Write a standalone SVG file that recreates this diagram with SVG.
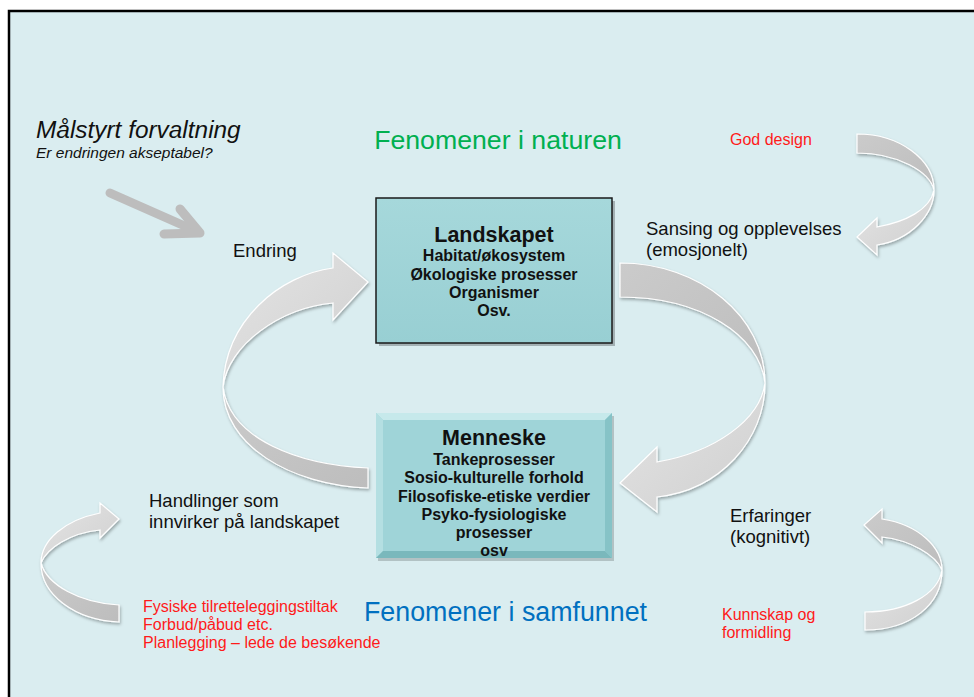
<svg xmlns="http://www.w3.org/2000/svg" width="974" height="697" viewBox="0 0 974 697">
<defs>
<style>
text{font-family:"Liberation Sans",Arial,sans-serif;fill:#111}
.lbl{font-size:18.5px}
.red{font-size:16px;fill:#ff1a1a}
.b1{font-size:21.5px;font-weight:bold;text-anchor:middle}
.b2{font-size:16px;font-weight:bold;text-anchor:middle}
.dark{fill:url(#gDark);stroke:#fff;stroke-width:1.2}
.light{fill:url(#gLight);stroke:#fff;stroke-width:1.2}
</style>
<linearGradient id="gDark" x1="0" y1="0" x2="1" y2="1"><stop offset="0" stop-color="#cbcbcb"/><stop offset="1" stop-color="#bdbdbd"/></linearGradient>
<linearGradient id="gLight" x1="0" y1="0" x2="1" y2="1"><stop offset="0" stop-color="#e4e4e4"/><stop offset="1" stop-color="#cfcfcf"/></linearGradient>
<linearGradient id="gBox" x1="0" y1="0" x2="0" y2="1"><stop offset="0" stop-color="#a6d8db"/><stop offset="1" stop-color="#98cfd3"/></linearGradient>
<filter id="sh" x="-20%" y="-20%" width="140%" height="140%"><feDropShadow dx="1" dy="2" stdDeviation="1.5" flood-color="#000" flood-opacity="0.3"/></filter>
</defs>
<rect x="0" y="0" width="974" height="697" fill="#fff"/>
<rect x="9" y="11" width="980" height="700" fill="#daedf0" stroke="#000" stroke-width="2.5"/>

<g id="connectors">
  <g id="arrow-right-big" filter="url(#sh)">
    <path class="dark" d="M620,263 C700,263 765,317 765,383 C760,335 700,297 620,297 Z"/>
    <path class="light" d="M765,383 C765,440 720,490 657,497 L657,512 L620,483 L657,447 L657,462 C715,452 760,420 765,383 Z"/>
  </g>
  <g id="arrow-left-big" filter="url(#sh)">
    <path class="light" d="M223,387 C225,320 280,275 333,268 L333,253 L368,282 L333,320 L333,303 C280,308 228,345 223,387 Z"/>
    <path class="dark" d="M223,387 C223,445 290,485 368,488 L368,468 C300,465 230,440 223,387 Z"/>
  </g>
  <g id="arrow-top-right" filter="url(#sh)">
    <path class="dark" d="M857,134 C900,134 934,160 934,190 C930,172 898,153 857,153 Z"/>
    <path class="light" d="M934,190 C934,215 910,240 877,245 L877,255 L857,237 L877,218 L877,227 C905,222 930,210 934,190 Z"/>
  </g>
  <g id="arrow-bottom-right" filter="url(#sh)">
    <path class="light" d="M865,630 C910,630 942,605 942,570 C938,595 905,612 865,612 Z"/>
    <path class="dark" d="M942,570 C942,548 920,525 882,519 L882,509 L864,525 L882,543 L882,537 C910,540 936,555 942,570 Z"/>
  </g>
  <g id="arrow-bottom-left" filter="url(#sh)">
    <path class="light" d="M41,563 C41,540 65,520 100,513 L100,503 L119,519 L100,538 L100,530 C70,533 47,548 41,563 Z"/>
    <path class="dark" d="M41,563 C41,595 75,620 119,622 L119,605 C80,603 47,585 41,563 Z"/>
  </g>
  <g id="arrow-straight" stroke="#bdbdbd" stroke-width="9" stroke-linecap="round" stroke-linejoin="round" fill="none">
    <line x1="110" y1="193" x2="196" y2="231"/>
    <polyline points="180,209 200,233 164,234"/>
  </g>
</g>

<g id="node-landskapet">
  <rect x="379" y="201" width="236" height="145" fill="#000" opacity="0.25"/>
  <rect x="376" y="198" width="236" height="145" fill="url(#gBox)" stroke="#1a1a1a" stroke-width="1.5"/>
  <text class="b1" x="494" y="242">Landskapet</text>
  <text class="b2" x="494" y="261">Habitat/økosystem</text>
  <text class="b2" x="494" y="280">Økologiske prosesser</text>
  <text class="b2" x="494" y="298">Organismer</text>
  <text class="b2" x="494" y="316">Osv.</text>
</g>

<g id="node-menneske">
  <rect x="378" y="416" width="236" height="145" fill="#000" opacity="0.18"/>
  <rect x="376" y="413" width="236" height="145" fill="#9fd4d8"/>
  <polygon points="376,413 612,413 605,420 383,420" fill="#c6e9eb"/>
  <polygon points="376,413 383,420 383,551 376,558" fill="#b4dfe2"/>
  <polygon points="612,413 612,558 605,551 605,420" fill="#86c3c7"/>
  <polygon points="376,558 612,558 605,551 383,551" fill="#7ab8bc"/>
  <text class="b1" x="494" y="445">Menneske</text>
  <text class="b2" x="494" y="465">Tankeprosesser</text>
  <text class="b2" x="494" y="483">Sosio-kulturelle forhold</text>
  <text class="b2" x="494" y="502">Filosofiske-etiske verdier</text>
  <text class="b2" x="494" y="520">Psyko-fysiologiske</text>
  <text class="b2" x="494" y="538">prosesser</text>
  <text class="b2" x="494" y="556">osv</text>
</g>

<g id="labels">
  <text x="36" y="138" font-size="24.4" font-style="italic">Målstyrt forvaltning</text>
  <text x="36" y="158" font-size="15.5" font-style="italic">Er endringen akseptabel?</text>
  <text x="498" y="149" font-size="26.7" text-anchor="middle" style="fill:#00b050">Fenomener i naturen</text>
  <text class="red" x="730" y="145">God design</text>
  <text class="lbl" x="233" y="257">Endring</text>
  <text class="lbl" x="646" y="235">Sansing og opplevelses</text>
  <text class="lbl" x="646" y="256">(emosjonelt)</text>
  <text class="lbl" x="149" y="507">Handlinger som</text>
  <text class="lbl" x="149" y="528">innvirker på landskapet</text>
  <text class="lbl" x="730" y="522">Erfaringer</text>
  <text class="lbl" x="730" y="543">(kognitivt)</text>
  <text x="364" y="621" font-size="26.8" style="fill:#0070c0">Fenomener i samfunnet</text>
  <text class="red" x="143" y="612">Fysiske tilretteleggingstiltak</text>
  <text class="red" x="143" y="630">Forbud/påbud etc.</text>
  <text class="red" x="143" y="648">Planlegging – lede de besøkende</text>
  <text class="red" x="722" y="620">Kunnskap og</text>
  <text class="red" x="722" y="638">formidling</text>
</g>
</svg>
